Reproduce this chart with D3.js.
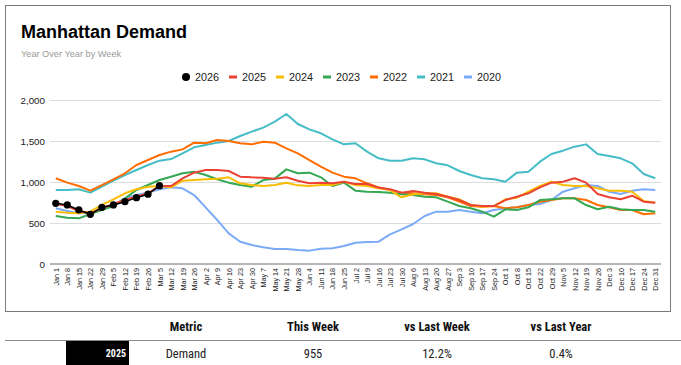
<!DOCTYPE html>
<html><head><meta charset="utf-8">
<script src="https://cdn.jsdelivr.net/npm/d3@7"></script>
<style>
body{margin:0;background:#fff}
svg{display:block}
text{font-family:"Liberation Sans",Arial,Helvetica,sans-serif}
.narrow{font-family:"Liberation Sans Narrow","Arial Narrow","Roboto Condensed","Liberation Sans",Arial,sans-serif}
</style>
</head><body>
<svg id="c" width="681" height="365"></svg>
<script>
const weeks = ["Jan 1","Jan 8","Jan 15","Jan 22","Jan 29","Feb 5","Feb 12","Feb 19","Feb 26","Mar 5","Mar 12","Mar 19","Mar 26","Apr 2","Apr 9","Apr 16","Apr 23","Apr 30","May 7","May 14","May 21","May 28","Jun 4","Jun 11","Jun 18","Jun 25","Jul 2","Jul 9","Jul 16","Jul 23","Jul 30","Aug 6","Aug 13","Aug 20","Aug 27","Sep 3","Sep 10","Sep 17","Sep 24","Oct 1","Oct 8","Oct 15","Oct 22","Oct 29","Nov 5","Nov 12","Nov 19","Nov 26","Dec 3","Dec 10","Dec 17","Dec 24","Dec 31"];
const yTicks = [0, 500, 1000, 1500, 2000];
const seriesNames = ["2026","2025","2024","2023","2022","2021","2020"];
const seriesColors = ["#000000","#EA4335","#FBBC04","#34A853","#FF6D01","#46BDC6","#7BAAF7"];

const s2026 = [740,720,659,606,691,720,760,809,851,955];
const s2025 = [735,707,646,618,679,732,780,821,862,951, 951,1045,1114,1146,1146,1134,1065,1057,1053,1041, 1057,1016,984,992,984,1004,975, 976,931,911,870,890,870,854,821,780, 720,707,707,780,821,862,935,992,1004,1045, 992,854,813,789,833,760,748];
const s2024 = [638,626,618,638,720,789,862,911,943,951, 935,1016,1024,1033,1041,1057,984,963,951,963, 992,959,951,963,963,1004,963, 951,923,902,813,850,862,862,821,789, 720,699,707,789,809,882,951,1004,963,951, 951,923,894,894,882,768,748];
const s2023 = [585,565,557,610,659,707,801,902,963,1024, 1065,1106,1126,1085,1033,992,963,943,1024,1041, 1154,1106,1114,1057,951,992, 894,882,878,870,850,841,821,813,760,707, 679,638,577,667,659,691,780,789,801,801, 719,667,699,667,659,659,638];
const s2022 = [1045,992,951,894,963,1033,1106,1207,1268,1329, 1370,1398,1480,1472,1512,1500,1472,1459,1492,1480, 1411,1350,1268,1187,1114,1065,1045, 984,935,902,870,862,850,841,813,760, 707,699,707,679,691,720,760,780,801,801, 780,720,691,659,659,606,618];
const s2021 = [902,902,911,870,943,1016,1085,1146,1207,1260, 1280,1350,1423,1451,1480,1500,1561,1614,1663,1736, 1829,1707,1642,1594,1520,1459,1472, 1370,1289,1260,1260,1289,1276,1228,1203,1134, 1085,1045,1033,1004,1114,1126,1248,1341,1382,1431, 1459,1341,1317,1289,1228,1098,1045];
const s2020 = [679,646,618,626,679,707,801,841,870,911, 935,923,841,691,537,374,272,232,203,183, 183,171,163,187,191,220,260, 268,272,362,423,488,585,638,638,659, 638,618,659,679,691,720,732,780,882,923, 963,951,882,854,894,911,902];

const tableHeaders = ["Metric","This Week","vs Last Week","vs Last Year"];
const tableRow = ["Demand","955","12.2%","0.4%"];
const tableLabel = "2025";

const seriesData = [s2026,s2025,s2024,s2023,s2022,s2021,s2020];

const svg = d3.select("#c");
svg.append("rect").attr("width",681).attr("height",365).attr("fill","#fff");
svg.append("rect").attr("x",5.5).attr("y",5.5).attr("width",665).attr("height",306)
  .attr("fill","#fff").attr("stroke","#7a7a7a").attr("stroke-width",1);

svg.append("text").attr("x",21).attr("y",38).attr("font-size",18).attr("font-weight","bold")
  .attr("fill","#000").text("Manhattan Demand");
svg.append("text").attr("x",21).attr("y",57).attr("font-size",9.2).attr("fill","#999")
  .text("Year Over Year by Week");

const x = d3.scalePoint().domain(weeks).range([50,661]).padding(0.5);
const y = d3.scaleLinear().domain([0,2000]).range([264,100]);

// gridlines
svg.append("g").selectAll("line").data(yTicks.filter(d=>d>0)).join("line")
  .attr("x1",50).attr("x2",661).attr("y1",d=>y(d)+0.5).attr("y2",d=>y(d)+0.5)
  .attr("stroke","#dcdcdc").attr("stroke-width",1);
svg.append("line").attr("x1",50).attr("x2",661).attr("y1",y(0)).attr("y2",y(0))
  .attr("stroke","#9e9e9e").attr("stroke-width",1.5);

// y axis labels
const ya = svg.append("g").attr("transform","translate(50,0)")
  .call(d3.axisLeft(y).tickValues(yTicks).tickSize(0).tickPadding(5).tickFormat(d3.format(",")));
ya.select(".domain").remove();
ya.selectAll("text").attr("font-size",9.8).attr("fill","#222").style("font-family","'Liberation Sans',Arial,sans-serif");

// x axis labels
const xa = svg.append("g").attr("transform",`translate(0,${y(0)})`)
  .call(d3.axisBottom(x).tickSize(0));
xa.select(".domain").remove();
xa.selectAll("text").attr("y",0).attr("x",-4).attr("dy","0.35em")
  .attr("transform","rotate(-90)").style("text-anchor","end")
  .attr("font-size",7.2).attr("fill","#1a1a1a").style("font-family","'Liberation Sans',Arial,sans-serif");

// lines (drawn from oldest to newest)
const line = d3.line().x((d,i)=>x(weeks[i])).y(d=>y(d));
const order = d3.range(seriesData.length).reverse();
svg.append("g").selectAll("path").data(order).join("path")
  .attr("d",k=>line(seriesData[k])).attr("fill","none")
  .attr("stroke",k=>seriesColors[k]).attr("stroke-width",k=>k===0?1.5:2)
  .attr("stroke-linejoin","round");
svg.append("g").selectAll("circle").data(s2026).join("circle")
  .attr("cx",(d,i)=>x(weeks[i])).attr("cy",d=>y(d)).attr("r",3.6).attr("fill","#000");

// legend
const lg = svg.append("g").attr("transform","translate(182,77)");
seriesNames.forEach((n,k)=>{
  const g = lg.append("g").attr("transform",`translate(${k*47},0)`);
  if(k===0){
    g.append("circle").attr("cx",4).attr("cy",0).attr("r",4).attr("fill",seriesColors[k]);
  } else {
    g.append("rect").attr("x",0).attr("y",-1.5).attr("width",8).attr("height",3).attr("fill",seriesColors[k]);
  }
  g.append("text").attr("x",13).attr("y",4).attr("font-size",10.8).attr("fill","#222").text(n);
});

// table
const colX = [186,313,437,561];
svg.append("g").selectAll("text").data(tableHeaders).join("text")
  .attr("class","narrow").attr("x",(d,i)=>colX[i]).attr("y",331).attr("text-anchor","middle")
  .attr("font-size",12.5).attr("font-weight","bold").attr("fill","#111").text(d=>d);
svg.append("line").attr("x1",5).attr("x2",681).attr("y1",340.5).attr("y2",340.5)
  .attr("stroke","#8a8a8a").attr("stroke-width",1);
svg.append("rect").attr("x",66).attr("y",341).attr("width",63).attr("height",24).attr("fill","#000");
svg.append("text").attr("class","narrow").attr("x",126).attr("y",357).attr("text-anchor","end")
  .attr("font-size",10).attr("font-weight","bold").attr("fill","#fff").text(tableLabel);
svg.append("g").selectAll("text").data(tableRow).join("text")
  .attr("class","narrow").attr("x",(d,i)=>colX[i]).attr("y",358).attr("text-anchor","middle")
  .attr("font-size",12.5).attr("fill","#222").text(d=>d);
</script>
</body></html>
